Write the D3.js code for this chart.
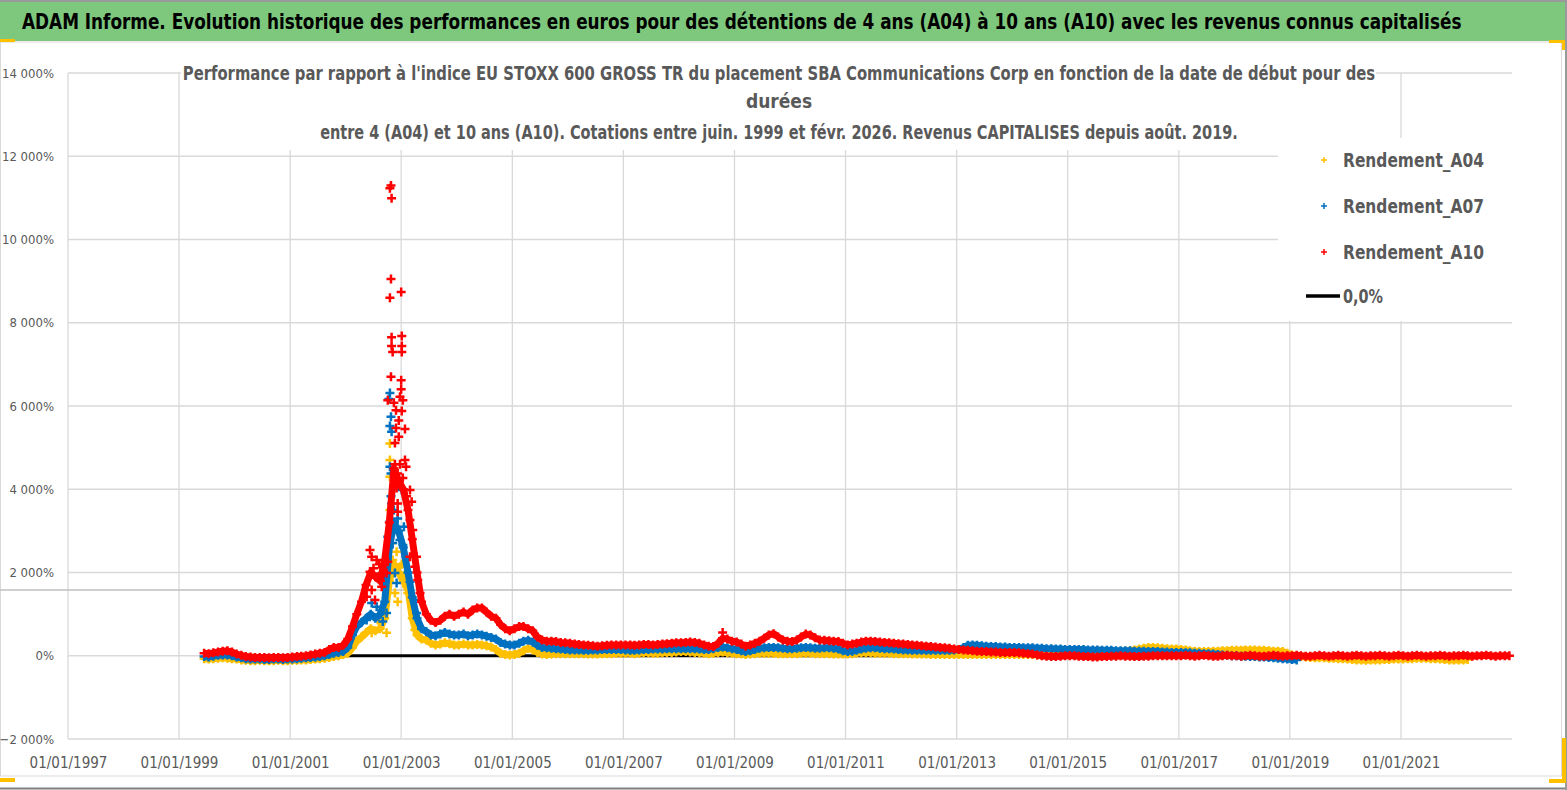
<!DOCTYPE html>
<html lang="fr">
<head>
<meta charset="utf-8">
<script src="https://cdn.jsdelivr.net/npm/d3@7"></script>
<style>
  body { margin: 0; background: #fff; }
  svg { display: block; font-family: "Liberation Sans Narrow", "DejaVu Sans Condensed", "Liberation Sans", sans-serif; }
</style>
</head>
<body>
<svg id="chart" width="1567" height="790"></svg>
<script>
// Valeurs mensuelles (en %), à partir de juin 1999
const debutSeries = '1999-06';

const rendementA04 = [
  -70, -80, -70, -60, -50, -60, -70,
  -80, -100, -110, -120, -120, -110, -120, -120, -120, -110, -120, -120,
  -110, -110, -100, -100, -90, -80, -70, -60, -40, -20, 0, 30,
  60, 200, 350, 450, 550, 650, 600, 650, 900, 1800, 2200, 2000,
  1800, 1600, 900, 500, 400, 380, 300, 260, 280, 310, 290, 260,
  260, 280, 260, 260, 270, 260, 240, 210, 150, 60, 30, 20,
  30, 60, 120, 180, 140, 80, 40, 30, 40, 50, 50, 50,
  50, 50, 50, 50, 40, 40, 40, 50, 50, 50, 60, 60,
  60, 60, 50, 60, 70, 70, 60, 60, 70, 80, 80, 90,
  100, 100, 90, 80, 70, 60, 50, 60, 80, 90, 70, 60,
  50, 40, 30, 40, 50, 60, 60, 60, 60, 50, 50, 50,
  50, 50, 60, 60, 60, 50, 50, 50, 50, 40, 40, 40,
  40, 50, 60, 70, 70, 70, 60, 60, 60, 60, 50, 50,
  50, 50, 40, 40, 40, 40, 30, 30, 30, 30, 30, 30,
  30, 30, 30, 30, 30, 30, 30, 30, 30, 30, 30, 30,
  30, 30, 30, 30, 30, 20, 20, 20, 20, 20, 30, 30,
  30, 30, 40, 40, 40, 40, 50, 50, 60, 70, 80, 100,
  110, 120, 140, 160, 180, 200, 200, 190, 180, 170, 160, 160,
  150, 140, 120, 110, 100, 100, 100, 110, 110, 120, 120, 130,
  130, 130, 140, 140, 140, 130, 130, 120, 110, 110, 100, 60,
  20, 0, -20, -30, -40, -50, -50, -50, -60, -60, -70, -70,
  -80, -90, -100, -100, -110, -100, -100, -100, -90, -90, -80, -80,
  -80, -70, -70, -60, -60, -60, -70, -70, -80, -90, -100, -100,
  -100, -100, -90
];

const rendementA07 = [
  -20, -30, -10, 10, 20, 20, 0,
  -30, -50, -70, -80, -80, -80, -90, -90, -80, -80, -90, -80,
  -80, -70, -60, -50, -40, -30, -20, 0, 30, 60, 80, 100,
  200, 500, 700, 800, 900, 1000, 900, 1000, 1300, 2600, 3200, 3000,
  2600, 2000, 1400, 900, 650, 580, 500, 480, 520, 560, 520, 500,
  500, 520, 480, 500, 520, 500, 470, 440, 400, 320, 280, 260,
  260, 300, 350, 370, 330, 250, 200, 190, 180, 170, 160, 150,
  140, 140, 140, 130, 130, 140, 140, 150, 150, 150, 150, 150,
  140, 130, 130, 140, 150, 150, 160, 160, 160, 170, 170, 170,
  170, 170, 170, 170, 160, 150, 150, 170, 200, 210, 190, 170,
  150, 120, 100, 120, 150, 180, 190, 200, 200, 190, 180, 170,
  170, 180, 190, 200, 190, 180, 180, 190, 190, 180, 160, 120,
  100, 110, 130, 160, 180, 190, 190, 180, 170, 170, 160, 150,
  140, 140, 130, 130, 130, 130, 130, 130, 130, 130, 130, 140,
  150, 200, 250, 260, 250, 240, 230, 220, 220, 210, 210, 200,
  200, 200, 190, 190, 190, 180, 180, 170, 170, 160, 160, 150,
  150, 150, 150, 150, 140, 140, 140, 130, 130, 130, 120, 120,
  120, 120, 110, 110, 110, 100, 100, 100, 90, 90, 80, 80,
  80, 70, 70, 60, 60, 50, 50, 40, 30, 20, 10, 0,
  0, -10, -10, -20, -20, -30, -30, -40, -50, -60, -70, -80,
  -90, -100
];

const rendementA10 = [
  60, 50, 70, 90, 110, 120, 90,
  40, 10, -20, -30, -40, -40, -40, -50, -40, -40, -50, -40,
  -30, -20, -10, 0, 20, 40, 60, 80, 150, 200, 200, 250,
  400, 700, 1000, 1300, 1700, 2000, 1900, 1800, 2300, 3200, 4500, 4200,
  4000, 3500, 2800, 2000, 1300, 1000, 850, 800, 850, 950, 1000, 950,
  1000, 1050, 1000, 1100, 1150, 1150, 1050, 950, 900, 750, 650, 600,
  650, 700, 700, 650, 600, 450, 380, 350, 350, 340, 320, 310,
  300, 280, 270, 260, 250, 240, 230, 240, 250, 260, 260, 260,
  260, 260, 250, 260, 270, 270, 260, 270, 280, 290, 300, 310,
  310, 320, 330, 320, 300, 260, 230, 220, 300, 420, 400, 350,
  330, 280, 230, 260, 300, 350, 420, 500, 530, 450, 380, 350,
  340, 380, 450, 520, 500, 430, 380, 370, 360, 350, 340, 300,
  260, 280, 300, 330, 350, 350, 340, 330, 320, 310, 300, 290,
  280, 270, 260, 250, 240, 230, 220, 210, 200, 190, 180, 160,
  150, 140, 130, 120, 110, 100, 100, 90, 90, 80, 80, 80,
  80, 70, 60, 50, 40, 20, 0, -10, -20, -20, -10, 0,
  0, 0, -10, -20, -20, -30, -30, -20, -20, -10, -10, 0,
  -10, -10, -20, -20, -10, -10, 0, 0, 0, 0, 0, 0,
  0, 10, 0, -10, 0, 10, 0, -10, -10, 0, 10, 0,
  0, -10, 0, 10, 0, -10, -10, 0, 10, 0, -10, 0,
  0, 10, 0, -10, -10, 0, 10, 0, -10, 0, 10, 0,
  -10, 0, 10, 0, -10, 0, 0, 10, 0, -10, 0, 10,
  0, -10, 0, 10, 0, -10, 0, 0, 10, 0, -10, 0,
  0, 10, 0, -10, 0, 0, 10, 0, -10, 0, 0, 0
];

// Points isolés du pic de fin 2002 / début 2003 (date, valeur %)
const picsA04 = [
  ['2002-10-19', 5100], ['2002-10-19', 4700], ['2002-10-19', 4300], ['2002-10-19', 3500],
  ['2002-10-30', 2700], ['2002-12-24', 2140], ['2003-01-26', 1990], ['2002-11-21', 1510],
  ['2002-12-09', 1300], ['2003-02-06', 1660], ['2003-02-14', 1510], ['2003-03-18', 1030],
  ['2003-04-01', 620], ['2002-07-31', 860], ['2002-09-27', 550], ['2002-06-21', 550],
  ['2002-11-06', 2300], ['2002-12-02', 2500], ['2003-01-05', 2200]
];

const picsA07 = [
  ['2002-10-19', 6310], ['2002-10-12', 6170], ['2002-10-26', 5740], ['2002-10-19', 5520],
  ['2002-10-30', 5380], ['2002-10-19', 4540], ['2002-10-26', 4380], ['2002-10-26', 3830],
  ['2002-10-30', 3660], ['2003-01-05', 3980], ['2002-10-19', 3220], ['2002-10-05', 2860],
  ['2002-11-06', 2710], ['2002-12-24', 2780], ['2003-01-12', 2660], ['2003-02-02', 2380],
  ['2002-11-21', 1990], ['2002-12-02', 1750], ['2003-02-28', 1780], ['2003-04-01', 1340],
  ['2003-04-12', 1030], ['2002-06-21', 1270], ['2002-07-24', 1180], ['2002-09-27', 1030],
  ['2002-05-19', 860], ['2002-09-02', 820], ['2002-03-14', 740], ['2002-12-09', 3300],
  ['2002-11-14', 3500], ['2003-01-19', 3100]
];

const picsA10 = [
  ['2002-10-26', 11300], ['2002-10-19', 11230], ['2002-10-30', 10990], ['2002-10-26', 9050],
  ['2002-10-19', 8600], ['2003-01-01', 8740], ['2002-10-30', 7650], ['2003-01-05', 7680],
  ['2002-10-30', 7440], ['2003-01-05', 7440], ['2002-11-06', 7300], ['2003-01-05', 7300],
  ['2002-10-26', 6700], ['2003-01-01', 6620], ['2003-01-01', 6400], ['2002-12-24', 6220],
  ['2003-01-12', 6140], ['2002-10-05', 6140], ['2002-11-14', 6080], ['2002-11-28', 5900],
  ['2003-01-05', 5880], ['2002-12-16', 5650], ['2002-11-28', 5470], ['2003-01-26', 5450],
  ['2002-12-16', 5260], ['2002-11-21', 5110], ['2002-11-21', 4600], ['2002-12-24', 4600],
  ['2003-01-26', 4700], ['2003-02-02', 4540], ['2002-12-09', 4380], ['2003-01-12', 4270],
  ['2002-12-02', 4030], ['2003-02-28', 3980], ['2003-02-06', 3830], ['2003-03-11', 3700],
  ['2002-12-09', 3660], ['2002-12-09', 3460], ['2003-02-28', 3260], ['2003-03-18', 3020],
  ['2003-02-28', 2380], ['2003-04-12', 2380], ['2003-04-01', 2140], ['2003-04-20', 1820],
  ['2003-05-05', 1510], ['2002-10-05', 2260], ['2002-06-10', 2540], ['2002-06-21', 2380],
  ['2002-07-24', 2300], ['2002-06-10', 2020], ['2002-07-31', 1900], ['2002-08-26', 1660],
  ['2002-06-21', 1580], ['2002-05-19', 1420], ['2002-07-13', 1340], ['2002-09-27', 1990],
  ['2002-07-03', 2100], ['2002-08-10', 2200], ['2002-08-18', 1800], ['2002-09-10', 2000],
  ['2008-10-15', 560]
];

const yTicks = [-2000, 0, 2000, 4000, 6000, 8000, 10000, 12000, 14000];
const xTickAnnees = [1997, 1999, 2001, 2003, 2005, 2007, 2009, 2011, 2013, 2015, 2017, 2019, 2021];
const legendeNoms = ['Rendement_A04', 'Rendement_A07', 'Rendement_A10', '0,0%'];
const couleurs = ['#FFC000', '#0070C0', '#FF0000'];

const titre = 'ADAM Informe. Evolution historique des performances en euros pour des détentions de 4 ans (A04) à 10 ans (A10) avec les revenus connus capitalisés';
const sousTitre = [
  "Performance par rapport à l'indice EU STOXX 600 GROSS TR  du placement SBA Communications Corp en fonction de la date de début pour des",
  'durées',
  'entre 4 (A04) et 10 ans (A10). Cotations entre juin. 1999 et févr. 2026. Revenus CAPITALISES depuis août. 2019.'
];

const svg = d3.select('#chart');
const gris = '#595959';
const police = '"Liberation Sans Narrow", "DejaVu Sans Condensed", sans-serif';

// Resserre un texte horizontalement pour qu'il tienne dans une largeur donnée
function ajuster(sel, x, y, largeur, ancre) {
  sel.attr('x', 0).attr('y', 0).attr('text-anchor', ancre);
  const w = sel.node().getComputedTextLength();
  const k = Math.min(1, largeur / w);
  sel.attr('transform', `translate(${x},${y}) scale(${k},1)`);
}

// Cadre et bandeau vert
svg.append('rect').attr('x', 0.5).attr('y', 42).attr('width', 1561).attr('height', 734)
  .style('fill', '#fff').style('stroke', '#d9d9d9');
svg.append('rect').attr('x', 0).attr('y', 1).attr('width', 1567).attr('height', 40)
  .style('fill', '#7dc87d');
svg.append('line').attr('x1', 0).attr('x2', 1567).attr('y1', 1).attr('y2', 1).style('stroke', '#9a9a9a').style('stroke-width', 2);
svg.append('line').attr('x1', 0).attr('x2', 1567).attr('y1', 788.5).attr('y2', 788.5).style('stroke', '#7f7f7f').style('stroke-width', 2);
svg.append('line').attr('x1', 1566).attr('x2', 1566).attr('y1', 0).attr('y2', 790).style('stroke', '#9a9a9a').style('stroke-width', 2);

const titreTxt = svg.append('text')
  .style('font-size', '22px').style('font-weight', 'bold').style('fill', '#000')
  .text(titre);
ajuster(titreTxt, 22, 29, 1440, 'start');

// Poignées jaunes (sélection Excel)
const jaune = '#FFC000';
[[0, 39, 15, 3], [1549, 40, 16, 3], [1562, 40, 3, 10], [0, 778, 15, 4], [1562, 738, 4, 45], [1549, 779, 17, 4]]
  .forEach(r => svg.append('rect').attr('x', r[0]).attr('y', r[1]).attr('width', r[2]).attr('height', r[3]).style('fill', jaune));

// Echelles
const xScale = d3.scaleTime().domain([new Date(1997, 0, 1), new Date(2023, 0, 1)]).range([68, 1512]);
const yScale = d3.scaleLinear().domain([-2000, 14000]).range([739, 73]);

const fr = d3.formatLocale({ decimal: ',', thousands: ' ', grouping: [3], currency: ['', ' €'] });
const fmtPct = v => fr.format(',d')(v) + '%';
const xTicks = xTickAnnees.map(a => new Date(a, 0, 1));

// Grille
svg.append('g')
  .selectAll('line')
  .data(yTicks)
  .enter()
  .append('line')
  .attr('x1', 68).attr('x2', 1512)
  .attr('y1', d => yScale(d)).attr('y2', d => yScale(d))
  .style('stroke', '#d9d9d9').style('stroke-width', 1.3);

svg.append('g')
  .selectAll('line')
  .data(xTicks)
  .enter()
  .append('line')
  .attr('x1', d => xScale(d)).attr('x2', d => xScale(d))
  .attr('y1', 73).attr('y2', 739)
  .style('stroke', '#d9d9d9').style('stroke-width', 1.3);

svg.append('line').attr('x1', 0).attr('x2', 1512).attr('y1', 590).attr('y2', 590)
  .style('stroke', '#bfbfbf').style('stroke-width', 1.3);

// Axes
const yAxis = svg.append('g')
  .attr('transform', 'translate(57,0)')
  .call(d3.axisLeft(yScale).tickValues(yTicks).tickSize(0).tickFormat(fmtPct));
yAxis.selectAll('.tick text').style('fill', gris).style('font-size', '13px').style('font-family', police);

const xAxis = svg.append('g')
  .attr('transform', 'translate(0,754)')
  .call(d3.axisBottom(xScale).tickValues(xTicks).tickSize(0).tickFormat(d3.timeFormat('%d/%m/%Y')));
xAxis.selectAll('.tick text').style('fill', gris).style('font-size', '15px').style('font-family', police);

svg.selectAll('.domain').style('stroke', 'none');

// Séries
const debut = d3.timeParse('%Y-%m')(debutSeries);
const versPoints = vals => vals.map((v, i) => ({ date: d3.timeDay.offset(d3.timeMonth.offset(debut, i), 14), v }));
const parseJour = d3.timeParse('%Y-%m-%d');
const versPics = arr => arr.map(p => ({ date: parseJour(p[0]), v: p[1] }));

const series = [
  { bande: versPoints(rendementA04), pics: versPics(picsA04) },
  { bande: versPoints(rendementA07), pics: versPics(picsA07) },
  { bande: versPoints(rendementA10), pics: versPics(picsA10) }
];

const plot = svg.append('g');

// Ligne 0,0%
plot.append('line')
  .attr('x1', xScale(series[2].bande[0].date)).attr('x2', xScale(series[2].bande[series[2].bande.length - 1].date))
  .attr('y1', yScale(0)).attr('y2', yScale(0))
  .style('stroke', '#000').style('stroke-width', 3);

const ligne = d3.line().x(d => xScale(d.date)).y(d => yScale(d.v));
const croix = 'M-4.5,0H4.5M0,-4.5V4.5';

series.forEach((s, i) => {
  plot.append('path')
    .datum(s.bande)
    .attr('d', ligne)
    .style('fill', 'none')
    .style('stroke', couleurs[i])
    .style('stroke-width', 7)
    .style('stroke-linejoin', 'round');

  plot.append('g')
    .selectAll('path')
    .data(s.bande.concat(s.pics))
    .enter()
    .append('path')
    .attr('transform', d => `translate(${xScale(d.date)},${yScale(d.v)})`)
    .attr('d', croix)
    .style('stroke', couleurs[i])
    .style('stroke-width', 2.5);
});

// Titre du graphique (fond blanc)
svg.append('rect').attr('x', 181).attr('y', 58).attr('width', 1195).attr('height', 92).style('fill', '#fff');
const sousTitreY = [80, 108, 139];
const sousTitreLong = [1193, 100, 918];
sousTitre.forEach((t, i) => {
  const txt = svg.append('text')
    .style('font-size', '19px').style('font-weight', 'bold').style('fill', gris)
    .text(t);
  ajuster(txt, 779, sousTitreY[i], sousTitreLong[i], 'middle');
});

// Légende
const leg = svg.append('g');
leg.append('rect').attr('x', 1278).attr('y', 138).attr('width', 240).attr('height', 183).style('fill', '#fff');
const legLong = [141, 141, 141, 40];
legendeNoms.forEach((nom, i) => {
  const yy = 160 + i * 46;
  if (i < 3) {
    leg.append('path').attr('transform', `translate(1324,${yy})`).attr('d', 'M-3,0H3M0,-3V3')
      .style('stroke', couleurs[i]).style('stroke-width', 1.5);
  } else {
    leg.append('line').attr('x1', 1306).attr('x2', 1340).attr('y1', yy - 2).attr('y2', yy - 2)
      .style('stroke', '#000').style('stroke-width', 3.5);
  }
  const txt = leg.append('text')
    .style('font-size', '20px').style('font-weight', 'bold').style('fill', gris)
    .text(nom);
  ajuster(txt, 1343, (i < 3 ? yy : yy - 2) + 7, legLong[i], 'start');
});
</script>
</body>
</html>
